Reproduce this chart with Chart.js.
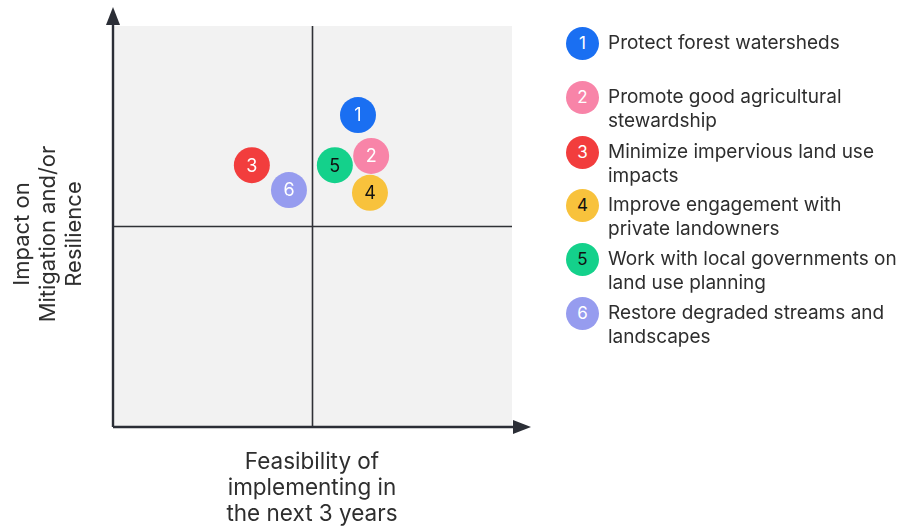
<!DOCTYPE html>
<html>
<head>
<meta charset="utf-8">
<script src="https://cdn.jsdelivr.net/npm/chart.js@4.4.1/dist/chart.umd.min.js"></script>
<style>
  html,body{margin:0;padding:0;background:#fff;}
  #wrap{position:relative;width:898px;height:527px;overflow:hidden;font-family:Inter,"Open Sans",sans-serif;color:#2e2e2e;}
  #c{position:absolute;left:0;top:0;}
  .xt{position:absolute;left:192px;width:240px;top:448px;text-align:center;font-size:22.5px;line-height:26px;}
  .yt{position:absolute;left:47px;top:234px;width:260px;transform:translate(-50%,-50%) rotate(-90deg);text-align:center;font-size:22px;line-height:26px;}
  .li{position:absolute;left:566px;}
  .dot{position:absolute;left:0;width:33px;height:33px;border-radius:50%;font-size:17px;line-height:33px;text-align:center;}
  .lt{position:absolute;left:42px;width:320px;font-size:19px;line-height:24px;white-space:nowrap;}
</style>
</head>
<body>
<div id="wrap">
  <canvas id="c" width="898" height="527"></canvas>
  <div class="xt" id="xt"></div>
  <div class="yt" id="yt"></div>
  <div id="legend"></div>
</div>
<script>
// ---- data ----
const ids = ["1","2","3","4","5","6"];
const labels = [
  ["Protect forest watersheds"],
  ["Promote good agricultural","stewardship"],
  ["Minimize impervious land use","impacts"],
  ["Improve engagement with","private landowners"],
  ["Work with local governments on","land use planning"],
  ["Restore degraded streams and","landscapes"]
];
const feasibility = [6.14, 6.47, 3.48, 6.44, 5.56, 4.41];
const impact      = [7.78, 6.76, 6.53, 5.84, 6.53, 5.91];
const colors = ["#1a6ff2","#f884a8","#f23d3d","#f8c23c","#14d18b","#969cef"];
const textColors = ["#ffffff","#ffffff","#ffffff","#111111","#111111","#ffffff"];
const xTitle = ["Feasibility of","implementing in","the next 3 years"];
const yTitle = ["Impact on","Mitigation and/or","Resilience"];
const legendCenters = [43, 97, 152, 205, 259, 313];

// ---- titles & legend (HTML text) ----
document.getElementById('xt').innerHTML = xTitle.join('<br>');
document.getElementById('yt').innerHTML = yTitle.join('<br>');
const lg = document.getElementById('legend');
ids.forEach((id,i)=>{
  const d = document.createElement('div');
  d.className='li';
  d.style.top = (legendCenters[i]-16.5)+'px';
  d.innerHTML = '<div class="dot" style="background:'+colors[i]+';color:'+textColors[i]+'">'+id+'</div>'+
    '<div class="lt" style="top:4.5px">'+labels[i].join('<br>')+'</div>';
  lg.appendChild(d);
});

// ---- plugins ----
const frame = {
  id:'frame',
  beforeDraw(chart){
    const {ctx, chartArea:a, scales:{x,y}} = chart;
    ctx.save();
    ctx.fillStyle='#f2f2f2';
    ctx.fillRect(a.left,a.top,a.right-a.left,a.bottom-a.top);
    ctx.strokeStyle='#2f3136'; ctx.lineWidth=1.6;
    const mx = x.getPixelForValue(5), my = y.getPixelForValue(5);
    ctx.beginPath(); ctx.moveTo(mx,a.top); ctx.lineTo(mx,a.bottom); ctx.stroke();
    ctx.beginPath(); ctx.moveTo(a.left,my); ctx.lineTo(a.right,my); ctx.stroke();
    ctx.restore();
  },
  afterDraw(chart){
    const {ctx, chartArea:a} = chart;
    ctx.save();
    ctx.strokeStyle='#2b2e36'; ctx.fillStyle='#2b2e36'; ctx.lineWidth=2.4;
    ctx.beginPath(); ctx.moveTo(a.left,a.bottom); ctx.lineTo(a.left,a.top-6); ctx.stroke();
    ctx.beginPath(); ctx.moveTo(a.left,a.top-19); ctx.lineTo(a.left-7,a.top-1); ctx.lineTo(a.left+7,a.top-1); ctx.closePath(); ctx.fill();
    ctx.beginPath(); ctx.moveTo(a.left,a.bottom); ctx.lineTo(a.right+6,a.bottom); ctx.stroke();
    ctx.beginPath(); ctx.moveTo(a.right+19,a.bottom); ctx.lineTo(a.right+1,a.bottom-7); ctx.lineTo(a.right+1,a.bottom+7); ctx.closePath(); ctx.fill();
    ctx.restore();
  },
  afterDatasetsDraw(chart){
    const {ctx} = chart;
    const meta = chart.getDatasetMeta(0);
    ctx.save();
    ctx.font='18px Inter, "Open Sans", sans-serif';
    ctx.textAlign='center'; ctx.textBaseline='middle';
    meta.data.forEach((el,i)=>{
      ctx.fillStyle=textColors[i];
      ctx.fillText(ids[i], el.x, el.y+1);
    });
    ctx.restore();
  }
};

new Chart(document.getElementById('c'), {
  type:'bubble',
  data:{
    datasets:[{
      data: feasibility.map((v,i)=>({x:v, y:impact[i], r:18})),
      backgroundColor: colors,
      borderWidth:0,
      hoverRadius:0
    }]
  },
  options:{
    responsive:false,
    animation:false,
    events:[],
    layout:{padding:{left:113,top:26,right:386,bottom:100}},
    plugins:{legend:{display:false},tooltip:{enabled:false}},
    scales:{
      x:{min:0,max:10,display:false},
      y:{min:0,max:10,display:false}
    }
  },
  plugins:[frame]
});
</script>
</body>
</html>
